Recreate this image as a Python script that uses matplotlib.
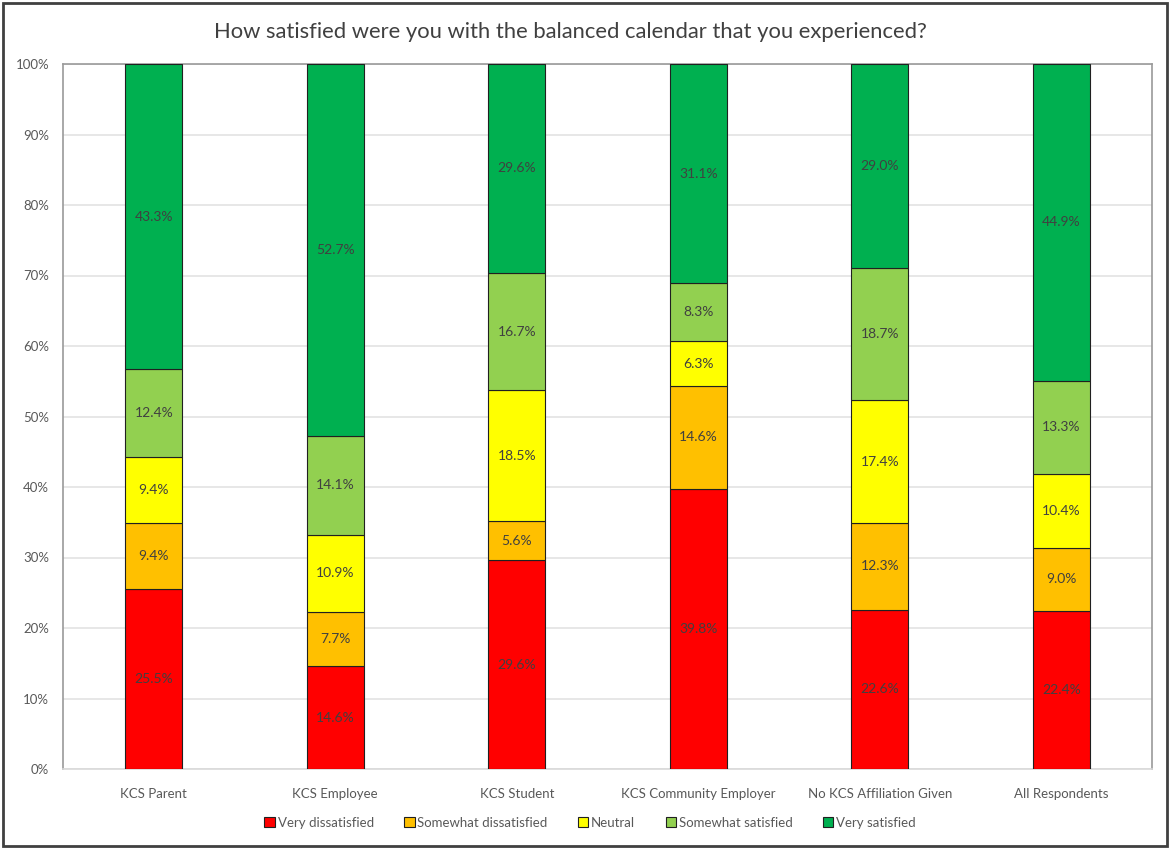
import matplotlib
matplotlib.use("Agg")
import matplotlib.pyplot as plt
import numpy as np
from matplotlib.patches import Rectangle

categories = ["KCS Parent", "KCS Employee", "KCS Student", "KCS Community Employer",
              "No KCS Affiliation Given", "All Respondents"]
series_names = ["Very dissatisfied", "Somewhat dissatisfied", "Neutral",
                "Somewhat satisfied", "Very satisfied"]
very_dissatisfied = [25.5, 14.6, 29.6, 39.8, 22.6, 22.4]
somewhat_dissatisfied = [9.4, 7.7, 5.6, 14.6, 12.3, 9.0]
neutral = [9.4, 10.9, 18.5, 6.3, 17.4, 10.4]
somewhat_satisfied = [12.4, 14.1, 16.7, 8.3, 18.7, 13.3]
very_satisfied = [43.3, 52.7, 29.6, 31.1, 29.0, 44.9]
colors = ["#FF0000", "#FFC000", "#FFFF00", "#92D050", "#00B050"]

plt.rcParams['font.family'] = ['Lato', 'DejaVu Sans']

data = np.array([very_dissatisfied, somewhat_dissatisfied, neutral,
                 somewhat_satisfied, very_satisfied])
totals = data.sum(axis=0)
norm = data / totals * 100

fig = plt.figure(figsize=(11.71, 8.49), dpi=100)
ax = fig.add_axes([63/1171, 1 - 769/849, (1152-63)/1171, (769-64)/849])

x = np.arange(len(categories))
bottom = np.zeros(len(categories))
handles = []
for i, name in enumerate(series_names):
    bars = ax.bar(x, norm[i], bottom=bottom, width=0.315, color=colors[i],
                  edgecolor="#202020", linewidth=0.8, label=name, zorder=3)
    handles.append(bars)
    for j in range(len(categories)):
        ax.text(x[j], bottom[j] + norm[i][j] / 2, f"{data[i][j]:.1f}%",
                ha="center", va="center", fontsize=10, color="#404040", zorder=4)
    bottom += norm[i]

ax.set_xlim(-0.5, len(categories) - 0.5)
ax.set_ylim(0, 100)
ax.set_yticks(np.arange(0, 101, 10))
ax.set_yticklabels([f"{v}%" for v in range(0, 101, 10)])
ax.set_xticks(x)
ax.set_xticklabels(categories)
ax.tick_params(axis="both", length=0, labelsize=9.5, labelcolor="#595959")
ax.tick_params(axis="x", pad=14)
ax.tick_params(axis="y", pad=10)
ax.yaxis.grid(True, color="#E3E3E3", linewidth=1.2, zorder=0)
ax.set_axisbelow(True)
for s in ["left", "top", "right"]:
    ax.spines[s].set_color("#9A9A9A")
    ax.spines[s].set_linewidth(1.2)
ax.spines["bottom"].set_color("#D9D9D9")
ax.spines["bottom"].set_linewidth(1.2)

fig.text(570/1171, 1 - 32/849,
         "How satisfied were you with the balanced calendar that you experienced?",
         ha="center", va="center", fontsize=15.8, color="#404040")

leg = fig.legend(handles=handles, labels=series_names, loc="center",
                 bbox_to_anchor=(590/1171, 1 - 823/849), ncol=5, frameon=False,
                 fontsize=9.5, handlelength=0.8, handleheight=0.8, handletextpad=0.2,
                 columnspacing=2.3)
for t in leg.get_texts():
    t.set_color("#595959")

# outer frame
fig.patches.append(Rectangle((3/1171, 3/849), 1 - 7/1171, 1 - 6/849,
                             transform=fig.transFigure, fill=False,
                             edgecolor="#404040", linewidth=2))

fig.savefig("out.png", dpi=100, facecolor="white")
